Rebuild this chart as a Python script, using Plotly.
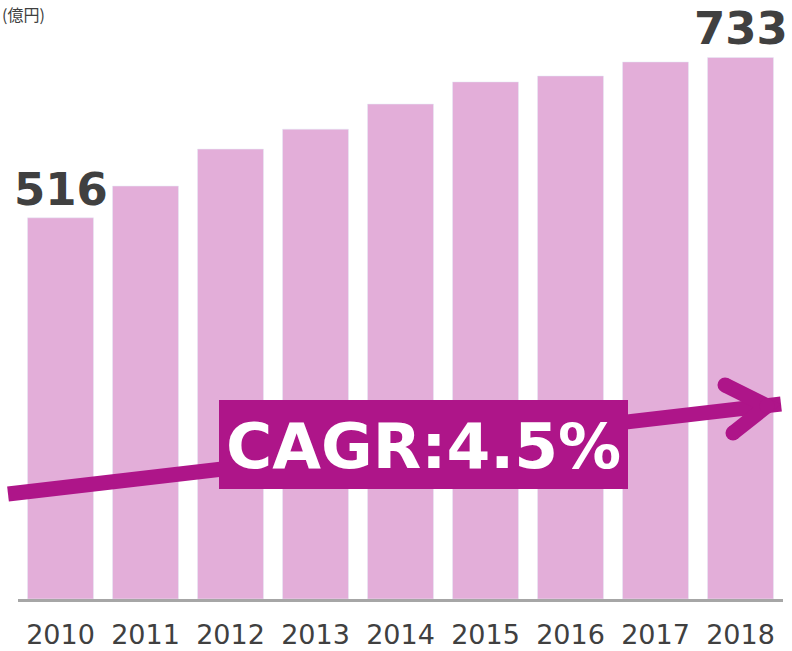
import plotly.graph_objects as go

years = ["2010", "2011", "2012", "2013", "2014", "2015", "2016", "2017", "2018"]
sales = [516, 559, 609, 636, 670, 700, 708, 727, 733]
unit_label = "(億円)"
cagr_label = "CAGR:4.5%"

BAR = "#E3AED9"
MAG = "#AE1589"
DARK = "#404040"

W, H = 792, 651
L, R, T, B = 18, 9, 7, 52
pw, ph = W - L - R, H - T - B

def px(x):
    return (x - L) / pw

def py(y):
    return (H - B - y) / ph

fig = go.Figure()
fig.add_trace(go.Bar(x=years, y=sales, marker_color=BAR, hoverinfo="skip"))

shapes = []
shapes.append(dict(type="line", xref="paper", yref="paper",
                   x0=px(8), y0=py(494), x1=px(781), y1=py(404),
                   line=dict(color=MAG, width=15)))
shapes.append(dict(type="path", xref="paper", yref="paper",
                   path=f"M {px(725)} {py(385)} L {px(767)} {py(406)} L {px(733)} {py(433)}",
                   line=dict(color=MAG, width=15)))
for cx, cy in [(725, 385), (733, 433), (767, 406)]:
    r = 7.5
    shapes.append(dict(type="circle", xref="paper", yref="paper",
                       x0=px(cx - r), x1=px(cx + r), y0=py(cy + r), y1=py(cy - r),
                       fillcolor=MAG, line=dict(width=0)))
shapes.append(dict(type="rect", xref="paper", yref="paper",
                   x0=px(219), x1=px(628), y0=py(489), y1=py(400),
                   fillcolor=MAG, line=dict(width=0)))

annotations = [
    dict(xref="paper", yref="paper", x=px(423.5), y=py(446), text=f"<b>{cagr_label}</b>",
         showarrow=False, xanchor="center", yanchor="middle",
         font=dict(family="DejaVu Sans", size=63, color="white")),
    dict(xref="paper", yref="paper", x=px(0), y=py(0), text=unit_label,
         showarrow=False, xanchor="left", yanchor="top",
         font=dict(family="Noto Sans CJK JP", size=16, color=DARK)),
]
for i in (0, len(years) - 1):
    annotations.append(dict(x=i, y=sales[i], xref="x", yref="y",
                            text=f"<b>{sales[i]}</b>", showarrow=False,
                            xanchor="center", yanchor="bottom", yshift=0,
                            font=dict(family="DejaVu Sans", size=45, color=DARK)))

fig.update_layout(
    width=W, height=H,
    margin=dict(l=L, r=R, t=T, b=B, pad=0, autoexpand=False),
    paper_bgcolor="white", plot_bgcolor="white",
    showlegend=False, bargap=0.2235,
    shapes=shapes, annotations=annotations,
    xaxis=dict(type="category", range=[-0.5, 8.5], showgrid=False, zeroline=False,
               showline=True, linecolor="#A6A6A6", linewidth=3, automargin=False,
               ticks="", ticklabelstandoff=10,
               tickfont=dict(family="DejaVu Sans", size=27, color=DARK)),
    yaxis=dict(range=[0, ph / 0.73875], showgrid=False, zeroline=False, automargin=False,
               showline=False, showticklabels=False, ticks=""),
)

fig.write_html("out.html", config={"displayModeBar": False},
               post_script="document.body.style.margin='0px';")
